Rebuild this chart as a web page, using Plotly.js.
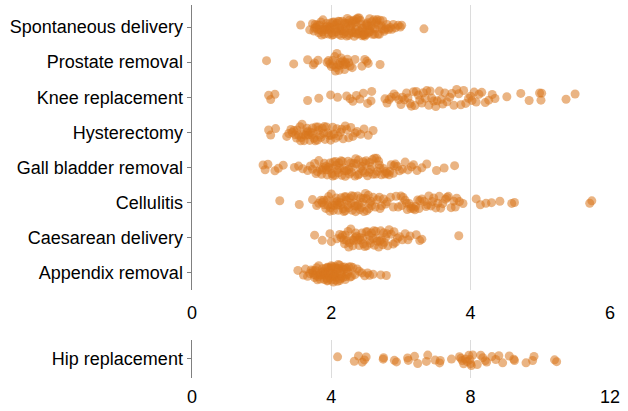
<!DOCTYPE html>
<html>
<head>
<meta charset="utf-8">
<script src="https://cdn.plot.ly/plotly-3.0.1.min.js"></script>
<style>
  html, body { margin: 0; padding: 0; background: #fff; }
  #plot { width: 628px; height: 411px; }
</style>
</head>
<body>
<div id="plot"></div>
<script>
// length of stay (days) per procedure
var categories = ["Appendix removal", "Caesarean delivery", "Cellulitis", "Gall bladder removal",
                  "Hysterectomy", "Knee replacement", "Prostate removal", "Spontaneous delivery"];

var spontaneous = [1.56, 1.69, 1.73, 1.75, 1.76, 1.78, 1.8, 1.81, 1.83, 1.84, 1.86, 1.87, 1.89, 1.9, 1.92,
  1.93, 1.94, 1.96, 1.97, 1.98, 2.0, 2.01, 2.01, 2.03, 2.04, 2.06, 2.07, 2.08, 2.1, 2.11, 2.12, 2.13, 2.15,
  2.16, 2.17, 2.19, 2.2, 2.21, 2.22, 2.24, 2.25, 2.26, 2.27, 2.29, 2.3, 2.31, 2.32, 2.34, 2.35, 2.36, 2.37,
  2.38, 2.4, 2.41, 2.42, 2.44, 2.45, 2.46, 2.47, 2.49, 2.5, 2.51, 2.52, 2.54, 2.55, 2.56, 2.58, 2.59, 2.61,
  2.62, 2.64, 2.65, 2.67, 2.69, 2.7, 2.72, 2.74, 2.77, 2.79, 2.82, 2.85, 2.89, 2.92, 2.96, 2.99, 3.01, 3.33,
  1.95, 2.05, 2.14, 2.23, 2.28, 2.33, 2.39, 2.43, 2.48, 2.53, 2.6,
  1.77, 1.82, 1.88, 1.91, 1.99, 2.02, 2.09, 2.18, 2.26, 2.31, 2.36, 2.44, 2.5, 2.57, 2.63, 2.68, 2.73,
  2.8, 1.85, 2.12, 2.21, 2.35, 2.46, 2.55, 2.66, 2.76, 2.87];
var prostate = [1.07, 1.46, 1.66, 1.74, 1.76, 1.81, 1.94, 1.96, 1.98, 2.0, 2.02, 2.03, 2.05, 2.07, 2.08,
  2.1, 2.11, 2.13, 2.14, 2.16, 2.18, 2.19, 2.21, 2.23, 2.25, 2.27, 2.3, 2.34, 2.44, 2.48, 2.51, 2.53, 2.7,
  2.06, 2.12, 2.2];
var knee = [1.1, 1.13, 1.19, 1.66, 1.82, 1.99, 2.09, 2.22, 2.27, 2.31, 2.36, 2.41, 2.46, 2.52, 2.57, 2.58,
  2.77, 2.8, 2.83, 2.86, 2.9, 2.93, 2.97, 3.0, 3.02, 3.05, 3.08, 3.1, 3.13, 3.15, 3.18, 3.2, 3.22, 3.25,
  3.27, 3.3, 3.32, 3.35, 3.37, 3.4, 3.42, 3.44, 3.47, 3.5, 3.52, 3.55, 3.58, 3.6, 3.63, 3.66, 3.7, 3.73,
  3.76, 3.8, 3.83, 3.86, 3.9, 3.93, 3.97, 4.0, 4.02, 4.05, 4.08, 4.12, 4.16, 4.21, 4.26, 4.31, 4.35, 4.52,
  4.72, 4.84, 4.99, 5.01, 5.02, 5.37, 5.5];
var hysterectomy = [1.1, 1.13, 1.2, 1.36, 1.39, 1.42, 1.44, 1.46, 1.48, 1.5, 1.51, 1.53, 1.55, 1.56, 1.58,
  1.6, 1.61, 1.63, 1.64, 1.66, 1.67, 1.69, 1.7, 1.72, 1.73, 1.75, 1.77, 1.78, 1.8, 1.82, 1.84, 1.85, 1.87,
  1.89, 1.91, 1.93, 1.95, 1.97, 1.99, 2.0, 2.02, 2.04, 2.06, 2.08, 2.1, 2.13, 2.15, 2.17, 2.2, 2.22, 2.25,
  2.28, 2.31, 2.34, 2.37, 2.42, 2.47, 2.53, 2.6, 1.57, 1.65, 1.74, 1.81, 1.9];
var gallBladder = [1.02, 1.05, 1.09, 1.19, 1.24, 1.31, 1.47, 1.53, 1.59, 1.66, 1.7, 1.73, 1.76, 1.78, 1.8,
  1.82, 1.84, 1.86, 1.88, 1.9, 1.92, 1.94, 1.96, 1.98, 2.0, 2.01, 2.03, 2.05, 2.07, 2.09, 2.1, 2.12, 2.14,
  2.16, 2.18, 2.2, 2.22, 2.24, 2.26, 2.28, 2.3, 2.32, 2.34, 2.36, 2.38, 2.4, 2.42, 2.44, 2.46, 2.48, 2.5,
  2.52, 2.54, 2.56, 2.58, 2.6, 2.62, 2.64, 2.66, 2.68, 2.7, 2.72, 2.75, 2.78, 2.8, 2.83, 2.86, 2.89, 2.92,
  2.95, 2.98, 3.02, 3.06, 3.1, 3.15, 3.18, 3.23, 3.3, 3.37, 3.51, 3.62, 3.77,
  1.87, 1.97, 2.06, 2.15, 2.25, 2.35, 2.45, 2.55, 2.65,
  1.93, 2.02, 2.11, 2.19, 2.29, 2.39, 2.49, 2.59, 2.69, 2.77, 2.84, 2.9];
var cellulitis = [1.26, 1.54, 1.73, 1.79, 1.82, 1.85, 1.87, 1.9, 1.92, 1.94, 1.96, 1.98, 2.0, 2.01, 2.03,
  2.05, 2.07, 2.08, 2.1, 2.12, 2.14, 2.15, 2.17, 2.19, 2.2, 2.22, 2.24, 2.26, 2.28, 2.3, 2.32, 2.34, 2.35,
  2.37, 2.39, 2.41, 2.43, 2.45, 2.47, 2.49, 2.51, 2.53, 2.55, 2.57, 2.6, 2.63, 2.66, 2.69, 2.72, 2.75, 2.78,
  2.8, 2.85, 2.89, 2.93, 2.96, 3.0, 3.03, 3.06, 3.09, 3.12, 3.15, 3.18, 3.21, 3.24, 3.27, 3.3, 3.33, 3.36,
  3.4, 3.43, 3.47, 3.5, 3.53, 3.57, 3.6, 3.64, 3.68, 3.72, 3.76, 3.8, 3.84, 3.89, 4.08, 4.14, 4.22, 4.3,
  4.42, 4.59, 4.63, 5.71, 5.74, 1.95, 2.04, 2.13, 2.21, 2.29, 2.38, 2.46, 2.54, 3.08, 3.2, 3.45,
  1.89, 1.99, 2.09, 2.18, 2.25, 2.33, 2.42, 2.5, 2.58, 2.7, 3.01, 3.14, 3.26, 3.38, 3.55, 3.66, 3.78];
var caesarean = [1.76, 1.87, 1.98, 2.0, 2.08, 2.12, 2.14, 2.16, 2.18, 2.2, 2.22, 2.24, 2.26, 2.28, 2.3,
  2.32, 2.34, 2.36, 2.38, 2.4, 2.42, 2.44, 2.46, 2.48, 2.5, 2.52, 2.54, 2.56, 2.58, 2.6, 2.62, 2.64, 2.66,
  2.68, 2.7, 2.72, 2.74, 2.76, 2.78, 2.8, 2.83, 2.86, 2.89, 2.92, 2.95, 2.98, 3.02, 3.06, 3.1, 3.13, 3.22,
  3.27, 3.3, 3.83, 2.25, 2.35, 2.45, 2.55, 2.65, 2.75, 2.19, 2.31, 2.41, 2.51, 2.61, 2.71, 2.81, 2.9];
var appendix = [1.52, 1.6, 1.63, 1.66, 1.69, 1.71, 1.73, 1.74, 1.76, 1.77, 1.79, 1.8, 1.81, 1.83, 1.84,
  1.85, 1.87, 1.88, 1.89, 1.9, 1.91, 1.92, 1.93, 1.94, 1.95, 1.96, 1.97, 1.98, 1.99, 2.0, 2.0, 2.01, 2.02,
  2.03, 2.04, 2.05, 2.06, 2.07, 2.08, 2.09, 2.1, 2.11, 2.12, 2.13, 2.14, 2.15, 2.17, 2.18, 2.2, 2.21, 2.23,
  2.25, 2.27, 2.29, 2.31, 2.34, 2.37, 2.4, 2.44, 2.48, 2.52, 2.55, 2.6, 2.71, 2.79,
  1.75, 1.82, 1.86, 1.9, 1.94, 1.97, 2.0, 2.03, 2.06, 2.09, 2.12, 2.16, 2.19, 2.24, 2.28, 1.78, 1.92,
  2.05, 2.14, 2.22];
var hip = [4.18, 4.66, 4.78, 4.89, 4.95, 5.0, 5.49, 5.5, 5.81, 5.87, 6.19, 6.21, 6.39, 6.48, 6.73, 6.77,
  6.98, 7.11, 7.13, 7.45, 7.68, 7.72, 7.76, 7.8, 7.85, 7.9, 7.95, 7.98, 8.0, 8.02, 8.06, 8.19, 8.29, 8.35,
  8.42, 8.46, 8.61, 8.72, 8.81, 8.92, 9.11, 9.24, 9.26, 9.59, 9.78, 9.82, 10.41, 10.47];

var topTicks = [0, 2, 4, 6];
var bottomTicks = [0, 4, 8, 12];

var dotColor = "rgb(217, 119, 30)";
var axisGrey = "#808080";
var fontFamily = "Liberation Sans, Arial, Helvetica, sans-serif";

function strip(name, values, xa, ya, jitter){
    var ys = [];
    for (var i = 0; i < values.length; i++) ys.push(name);
    return {
        type: "box",
        orientation: "h",
        x: values,
        y: ys,
        xaxis: xa,
        yaxis: ya,
        boxpoints: "all",
        pointpos: 0,
        jitter: jitter,
        width: 0.7,
        fillcolor: "rgba(0,0,0,0)",
        line: {width: 0, color: "rgba(0,0,0,0)"},
        whiskerwidth: 0,
        marker: {color: dotColor, size: 9, opacity: 0.55, line: {width: 0}},
        hoverinfo: "x",
        showlegend: false
    };
}

var traces = [
    strip("Appendix removal", appendix, "x", "y", 0.8),
    strip("Caesarean delivery", caesarean, "x", "y", 0.8),
    strip("Cellulitis", cellulitis, "x", "y", 0.8),
    strip("Gall bladder removal", gallBladder, "x", "y", 0.8),
    strip("Hysterectomy", hysterectomy, "x", "y", 0.8),
    strip("Knee replacement", knee, "x", "y", 0.8),
    strip("Prostate removal", prostate, "x", "y", 0.8),
    strip("Spontaneous delivery", spontaneous, "x", "y", 0.8),
    strip("Hip replacement", hip, "x2", "y2", 0.65)
];

var tickFont = {family: fontFamily, size: 18, color: "#000"};

var layout = {
    width: 628,
    height: 411,
    paper_bgcolor: "#fff",
    plot_bgcolor: "#fff",
    margin: {l: 192, r: 18, t: 5, b: 33},
    font: {family: fontFamily},
    boxmode: "overlay",
    xaxis: {
        domain: [0, 1],
        anchor: "y",
        range: [0, 6.001],
        tickvals: topTicks,
        showgrid: true,
        gridcolor: "#dcdcdc",
        zeroline: false,
        showline: false,
        ticks: "outside",
        ticklen: 6,
        tickcolor: "rgba(0,0,0,0)",
        tickfont: tickFont
    },
    yaxis: {
        domain: [0.236, 1],
        anchor: "x",
        type: "category",
        categoryarray: categories,
        categoryorder: "array",
        range: [-0.5, 7.63],
        showgrid: false,
        zeroline: false,
        showline: true,
        linecolor: axisGrey,
        linewidth: 1.5,
        ticks: "outside",
        ticklen: 4,
        tickcolor: axisGrey,
        tickfont: tickFont
    },
    xaxis2: {
        domain: [0, 1],
        anchor: "y2",
        range: [0, 12.002],
        tickvals: bottomTicks,
        showgrid: true,
        gridcolor: "#dcdcdc",
        zeroline: false,
        showline: false,
        ticks: "outside",
        ticklen: 2,
        tickcolor: "rgba(0,0,0,0)",
        tickfont: tickFont
    },
    yaxis2: {
        domain: [0, 0.102],
        anchor: "x2",
        type: "category",
        range: [-0.5, 0.5],
        showgrid: false,
        zeroline: false,
        showline: true,
        linecolor: axisGrey,
        linewidth: 1.5,
        ticks: "outside",
        ticklen: 4,
        tickcolor: axisGrey,
        tickfont: tickFont
    }
};

Plotly.newPlot("plot", traces, layout, {displayModeBar: false, staticPlot: true});
</script>
</body>
</html>
